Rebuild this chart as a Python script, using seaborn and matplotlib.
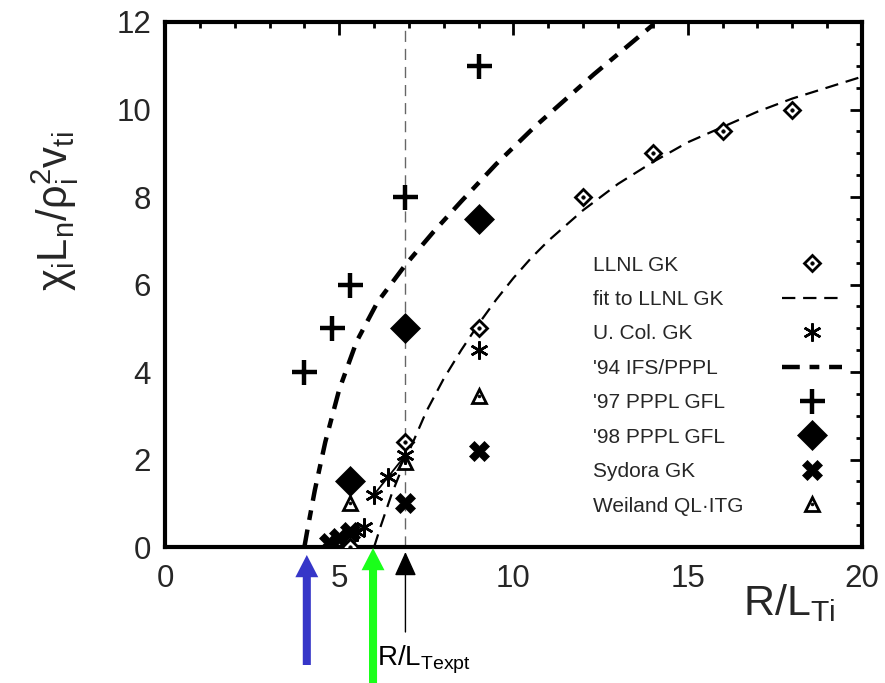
import matplotlib
matplotlib.use("Agg")
import matplotlib.pyplot as plt
import seaborn as sns
from matplotlib.lines import Line2D
from matplotlib.ticker import MultipleLocator

# ---- data -----------------------------------------------------------------
# LLNL gyrokinetic simulations
llnl_x = [5.3, 6.9, 9.0, 12.0, 14.0, 16.0, 18.0]
llnl_y = [0.0, 2.4, 5.0, 8.0, 9.0, 9.5, 10.0]

# fit to the LLNL gyrokinetic results
fit_x = [6.0, 6.2, 6.5, 6.9, 7.5, 8.0, 8.5, 9.0, 9.5, 10.0, 10.5, 11.0, 11.5,
         12.0, 13.0, 14.0, 15.0, 16.0, 17.0, 18.0, 19.0, 20.0]
fit_y = [0.0, 0.5, 1.2, 2.0, 3.1, 3.85, 4.5, 5.1, 5.65, 6.15, 6.6, 7.0, 7.35,
         7.7, 8.3, 8.8, 9.25, 9.6, 9.95, 10.25, 10.5, 10.75]

# U. Colorado gyrokinetic
ucol_x = [5.5, 5.7, 6.0, 6.4, 6.9, 9.0]
ucol_y = [0.35, 0.45, 1.2, 1.6, 2.1, 4.5]
ucol_line_x = [6.0, 6.4, 6.9]
ucol_line_y = [1.2, 1.6, 2.1]

# '94 IFS/PPPL model
ifs_x = [4.0, 4.1, 4.3, 4.6, 5.0, 5.5, 6.1, 6.9, 7.7, 8.5, 9.5, 10.6, 12.3, 14.1]
ifs_y = [0.0, 0.45, 1.3, 2.4, 3.6, 4.7, 5.6, 6.45, 7.2, 7.9, 8.75, 9.6, 10.8, 12.0]

# '97 PPPL gyrofluid
g97_x = [4.0, 4.8, 5.3, 6.9, 9.0]
g97_y = [4.0, 5.0, 6.0, 8.0, 11.0]

# '98 PPPL gyrofluid
g98_x = [5.3, 6.9, 9.0]
g98_y = [1.5, 5.0, 7.5]

# Sydora gyrokinetic
syd_x = [4.7, 5.0, 5.3, 6.9, 9.0]
syd_y = [0.1, 0.2, 0.35, 1.0, 2.2]

# Weiland quasilinear ITG
wei_x = [5.3, 6.9, 9.0]
wei_y = [1.0, 1.95, 3.45]

r_lt_expt = 6.9           # experimental R/L_T
thresholds = [4.07, 5.97]  # IFS/PPPL and LLNL-fit critical gradients

legend_labels = ["LLNL GK", "fit to LLNL GK", "U. Col. GK", "'94 IFS/PPPL",
                 "'97 PPPL GFL", "'98 PPPL GFL", "Sydora GK", "Weiland QL\u00b7ITG"]

# ---- style ----------------------------------------------------------------
sns.set_theme(style="white")
plt.rcParams["font.family"] = ["Liberation Sans", "DejaVu Sans"]
plt.rcParams["mathtext.fontset"] = "custom"
plt.rcParams["mathtext.rm"] = "Liberation Sans"
plt.rcParams["mathtext.it"] = "Liberation Sans"
plt.rcParams["mathtext.default"] = "regular"

fig = plt.figure(figsize=(8.85, 6.83), dpi=100)
ax = fig.add_axes([0.1864, 0.199, 0.7876, 0.7688])

K = "black"
ifs_dash = (0, (4, 2.2, 2.2, 2.2))
fit_dash = (0, (6, 3.5))

# reference line at the experimental gradient
ax.axvline(r_lt_expt, color="#666666", lw=1.0, ls=(0, (8, 5)), zorder=1)

# curves
sns.lineplot(x=ifs_x, y=ifs_y, ax=ax, color=K, lw=3.2, linestyle=ifs_dash,
             estimator=None, sort=False, zorder=2)
sns.lineplot(x=fit_x, y=fit_y, ax=ax, color=K, lw=1.6, linestyle=fit_dash,
             estimator=None, sort=False, zorder=2)
sns.lineplot(x=ucol_line_x, y=ucol_line_y, ax=ax, color=K, lw=1.3,
             estimator=None, sort=False, zorder=2)

# point styles
sty_llnl = dict(marker="D", markersize=8.5, markerfacecolor="white",
                markeredgecolor=K, markeredgewidth=2.0)
sty_dot = dict(marker="o", markersize=2.5, markerfacecolor=K,
               markeredgecolor=K, markeredgewidth=0.5)
sty_ucol = dict(marker=(6, 2, 0), markersize=13, markerfacecolor=K,
                markeredgecolor=K, markeredgewidth=1.8)
sty_g97 = dict(marker="+", markersize=18, markerfacecolor=K,
               markeredgecolor=K, markeredgewidth=3.2)
sty_g98 = dict(marker="D", markersize=15, markerfacecolor=K,
               markeredgecolor=K, markeredgewidth=0.5)
sty_syd = dict(marker="X", markersize=15, markerfacecolor=K,
               markeredgecolor=K, markeredgewidth=0.5)
sty_wei = dict(marker="^", markersize=9.5, markerfacecolor="white",
               markeredgecolor=K, markeredgewidth=2.0)
sty_wdot = dict(sty_dot, markersize=2)


def points(x, y, sty):
    sns.lineplot(x=x, y=y, ax=ax, linestyle="none", estimator=None,
                 sort=False, zorder=4, **sty)


points(syd_x, syd_y, sty_syd)
points(g98_x, g98_y, sty_g98)
points(g97_x, g97_y, sty_g97)
points(wei_x, wei_y, sty_wei)
points(wei_x, wei_y, sty_wdot)
points(ucol_x, ucol_y, sty_ucol)
points(llnl_x, llnl_y, sty_llnl)
points(llnl_x, llnl_y, sty_dot)

# ---- axes -----------------------------------------------------------------
ax.set_xlim(0, 20)
ax.set_ylim(0, 12)
ax.xaxis.set_major_locator(MultipleLocator(5))
ax.xaxis.set_minor_locator(MultipleLocator(1))
ax.yaxis.set_major_locator(MultipleLocator(2))
ax.yaxis.set_minor_locator(MultipleLocator(0.5))
ax.tick_params(which="both", direction="in", top=True, right=True,
               color=K, width=2.0)
ax.tick_params(which="major", length=9, labelsize=22.5)
ax.tick_params(axis="x", which="major", pad=12)
ax.tick_params(axis="y", which="major", pad=10)
ax.tick_params(which="minor", length=4.5)
for s in ax.spines.values():
    s.set_linewidth(3.0)
    s.set_color(K)

ax.set_xlabel(r"R/L$_{Ti}$", fontsize=31)
ax.xaxis.set_label_coords(0.895, -0.066)
ax.set_ylabel(r"$\chi_i L_n/\rho_i^2 v_{ti}$", fontsize=30)
ax.yaxis.set_label_coords(-0.12, 0.64)

# ---- legend: label column on the left, keys on the right ------------------
def proxy(sty):
    return Line2D([], [], linestyle="none", **sty)


handles = [
    (proxy(sty_llnl), proxy(sty_dot)),
    Line2D([], [], color=K, lw=1.6, ls=fit_dash),
    proxy(sty_ucol),
    Line2D([], [], color=K, lw=3.2, ls=ifs_dash),
    proxy(sty_g97),
    proxy(sty_g98),
    proxy(sty_syd),
    (proxy(sty_wei), proxy(sty_wdot)),
]
common = dict(frameon=False, fontsize=15, labelspacing=0.74, borderpad=0,
              borderaxespad=0, loc="upper left")
blank = [Line2D([], [], linestyle="none") for _ in handles]
leg_text = ax.legend(blank, legend_labels, bbox_to_anchor=(0.614, 0.555),
                     handlelength=0, handletextpad=0, **common)
ax.add_artist(leg_text)
ax.legend(handles, [" "] * len(handles), bbox_to_anchor=(0.885, 0.555),
          handlelength=2.9, handletextpad=0, **common)

# ---- threshold arrows under the axis --------------------------------------
def arrow(x, y_tip, y_tail, color, style, lw=0):
    ax.annotate("", xy=(x, y_tip), xycoords=("data", "figure pixels"),
                xytext=(x, y_tail), textcoords=("data", "figure pixels"),
                arrowprops=dict(arrowstyle=style, mutation_scale=10,
                                color=color, lw=lw, shrinkA=0, shrinkB=0),
                annotation_clip=False)


thick = "simple,head_length=1.6,head_width=1.65,tail_width=0.58"
arrow(thresholds[0], 128, 18, "#3636c8", thick)
arrow(thresholds[1], 135, 0, "#1aff1a", thick)
arrow(r_lt_expt, 131, 51, K, "-|>,head_length=1.5,head_width=0.68", lw=1.0)
fig.text(377 / 885, 18 / 683, r"R/L$_{Texpt}$", fontsize=20,
         ha="left", va="baseline", color=K)

fig.savefig("out.png", dpi=100)
